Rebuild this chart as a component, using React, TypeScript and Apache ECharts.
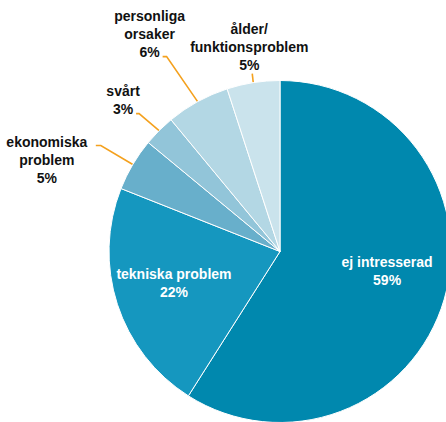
import React, { useEffect, useRef } from "react";
import * as echarts from "echarts";

const categories = [
  "ej intresserad",
  "tekniska problem",
  "ekonomiska\nproblem",
  "svårt",
  "personliga\norsaker",
  "ålder/\nfunktionsproblem",
];
const values = [59, 22, 5, 3, 6, 5];
const colors = ["#0088AE", "#1597BF", "#68AFCB", "#92C5D9", "#B3D7E4", "#CAE3EC"];
const insideLabels = [true, true, false, false, false, false];

// label layout for outside labels: elbow offset from anchor, horizontal tail, label centre offset from line end
const outsideLayout: Record<number, { elbow: [number, number]; tail: number; label: [number, number] }> = {
  2: { elbow: [-32, -19], tail: -5, label: [-49, 15] },
  3: { elbow: [-20, -17], tail: -3, label: [-13, -14] },
  4: { elbow: [-31, -45], tail: -4, label: [-13, -23] },
  5: { elbow: [-1, -9], tail: 0, label: [-3, -27] },
};
const insideShift: Record<number, number> = { 0: -12, 1: -3 };

export default function App() {
  const ref = useRef<HTMLDivElement>(null);
  useEffect(() => {
    if (!ref.current) return;
    const chart = echarts.init(ref.current, null, { renderer: "svg" });
    const font = "'Liberation Sans', Arial, sans-serif";
    const data = categories.map((name, i) => ({
      name,
      value: values[i],
      itemStyle: { color: colors[i] },
      label: insideLabels[i]
        ? { show: false }
        : {
            show: true,
            formatter: (p: any) => `${p.name}\n${p.value}%`,
          },
      labelLine: { show: !insideLabels[i] },
    }));
    const insideData = categories.map((name, i) => ({
      name,
      value: values[i],
      label: { show: insideLabels[i] },
    }));
    chart.setOption({
      animation: false,
      series: [
        {
          type: "pie",
          center: [280, 251.5],
          radius: [0, 171],
          startAngle: 90,
          clockwise: true,
          silent: true,
          avoidLabelOverlap: false,
          itemStyle: { borderColor: "#ffffff", borderWidth: 1 },
          label: {
            position: "outside",
            color: "#111111",
            fontFamily: font,
            fontWeight: "bold",
            fontSize: 14,
            lineHeight: 18,
            align: "center",
            overflow: "none",
            bleedMargin: 0,
          },
          labelLine: {
            lineStyle: { color: "#F4A11E", width: 1.6 },
            smooth: false,
          },
          labelLayout: (params: any) => {
            const cfg = outsideLayout[params.dataIndex];
            if (!cfg || !params.labelLinePoints) return {};
            const p0 = params.labelLinePoints[0];
            const p1 = [p0[0] + cfg.elbow[0], p0[1] + cfg.elbow[1]];
            const p2 = [p1[0] + cfg.tail, p1[1]];
            return {
              x: p2[0] + cfg.label[0],
              y: p2[1] + cfg.label[1],
              align: "center",
              verticalAlign: "middle",
              labelLinePoints: [p0, p1, p2],
            };
          },
          data,
        },
        {
          type: "pie",
          center: [280, 251.5],
          radius: [46, 171],
          startAngle: 90,
          clockwise: true,
          silent: true,
          avoidLabelOverlap: false,
          itemStyle: { color: "rgba(0,0,0,0)", borderWidth: 0 },
          label: {
            position: "inside",
            color: "#ffffff",
            fontFamily: font,
            fontWeight: "bold",
            fontSize: 14,
            lineHeight: 18,
            align: "center",
            formatter: (p: any) => `${p.name}\n${p.value}%`,
          },
          labelLayout: (params: any) => ({ dy: insideShift[params.dataIndex] || 0 }),
          labelLine: { show: false },
          data: insideData,
        },
      ],
    });
    return () => chart.dispose();
  }, []);
  return (
    <div
      ref={ref}
      style={{ position: "fixed", left: 0, top: 0, width: 446, height: 422, background: "#ffffff" }}
    />
  );
}
